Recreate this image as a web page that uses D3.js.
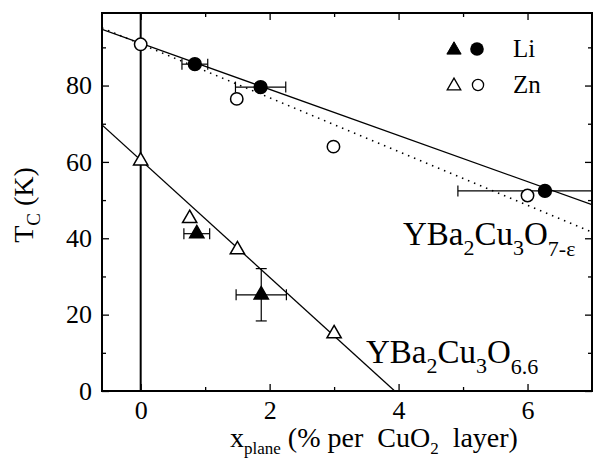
<!DOCTYPE html>
<html>
<head>
<meta charset="utf-8">
<script src="https://cdn.jsdelivr.net/npm/d3@7"></script>
</head>
<body style="margin:0; background:#fff">
<div id="my_dataviz"></div>
<script>
// data
// Li doped, 7-eps : [x, Tc, xerr]
const liCircles = [[0.84, 85.6, 0.2], [1.86, 79.6, 0.39], [6.27, 52.4, 1.35]];
// Zn doped, 7-eps
const znCircles = [[0, 90.8], [1.49, 76.5], [2.99, 64.0], [6.0, 51.2]];
// Zn doped, 6.6
const znTriangles = [[0, 60.3], [0.76, 45.2], [1.5, 37.0], [3.0, 15.0]];
// Li doped, 6.6 : [x, Tc, xerr, yerr]
const liTriangles = [[0.87, 41.2, 0.2, 0], [1.87, 25.2, 0.39, 6.85]];
// fit lines (end points)
const fitLi7 = [[-0.6, 94.7], [7, 48.8]];
const fitZn7 = [[-0.6, 95.1], [7, 41.6]];
const fit66 = [[-0.6, 69.7], [3.94, 0]];

const xTicks = [0, 2, 4, 6], xMinor = [1, 3, 5];
const yTicks = [0, 20, 40, 60, 80], yMinor = [10, 30, 50, 70, 90];

const FONT = '"Liberation Serif"';

const margin = {top: 13, right: 1, bottom: 73, left: 102},
  width = 593 - margin.left - margin.right,
  height = 464 - margin.top - margin.bottom;

const svg = d3.select("#my_dataviz")
  .append("svg")
  .attr("width", 593)
  .attr("height", 464)
  .append("g")
  .attr("transform", `translate(${margin.left},${margin.top})`);

const x = d3.scaleLinear().domain([-0.6, 7]).range([0, width]);
const y = d3.scaleLinear().domain([0, 99]).range([height, 0]);

svg.append("clipPath").attr("id", "clip")
  .append("rect").attr("width", width).attr("height", height);

// axes, ticks inward
function styleAxis(g) {
  g.attr("font-family", FONT);
  g.select(".domain").remove();
  g.selectAll("line").attr("stroke", "#000").attr("stroke-width", 1.3);
  g.selectAll("text").style("font-family", FONT).style("font-size", "26px").attr("fill", "#000");
}
svg.append("g").attr("transform", `translate(0,${height})`)
  .call(d3.axisBottom(x).tickValues(xTicks).tickSize(-7).tickPadding(8).tickFormat(d3.format("d")))
  .call(styleAxis).selectAll("text").attr("dy", "0.75em");
svg.append("g").attr("transform", `translate(0,${height})`)
  .call(d3.axisBottom(x).tickValues(xMinor).tickSize(-4).tickFormat(""))
  .call(styleAxis);
svg.append("g")
  .call(d3.axisTop(x).tickValues(xTicks).tickSize(-7).tickFormat(""))
  .call(styleAxis);
svg.append("g")
  .call(d3.axisTop(x).tickValues(xMinor).tickSize(-4).tickFormat(""))
  .call(styleAxis);
svg.append("g")
  .call(d3.axisLeft(y).tickValues(yTicks).tickSize(-7).tickPadding(10).tickFormat(d3.format("d")))
  .call(styleAxis);
svg.append("g")
  .call(d3.axisLeft(y).tickValues(yMinor).tickSize(-4).tickFormat(""))
  .call(styleAxis);
svg.append("g").attr("transform", `translate(${width},0)`)
  .call(d3.axisRight(y).tickValues(yTicks).tickSize(-7).tickFormat(""))
  .call(styleAxis);
svg.append("g").attr("transform", `translate(${width},0)`)
  .call(d3.axisRight(y).tickValues(yMinor).tickSize(-4).tickFormat(""))
  .call(styleAxis);

// frame
svg.append("rect")
  .attr("width", width).attr("height", height)
  .attr("fill", "none").attr("stroke", "#000").attr("stroke-width", 2);

// x = 0 line
svg.append("line")
  .attr("x1", x(0)).attr("x2", x(0)).attr("y1", 0).attr("y2", height)
  .attr("stroke", "#000").attr("stroke-width", 2);

const plot = svg.append("g").attr("clip-path", "url(#clip)");
const line = d3.line().x(d => x(d[0])).y(d => y(d[1]));

plot.append("path").datum(fitLi7).attr("d", line)
  .attr("fill", "none").attr("stroke", "#000").attr("stroke-width", 1.3);
plot.append("path").datum(fitZn7).attr("d", line)
  .attr("fill", "none").attr("stroke", "#000").attr("stroke-width", 1.5)
  .attr("stroke-dasharray", "1.5,5");
plot.append("path").datum(fit66).attr("d", line)
  .attr("fill", "none").attr("stroke", "#000").attr("stroke-width", 1.3);

// error bars
const cap = 5.5;
function xErr(data) {
  data.forEach(d => {
    const g = plot.append("g").attr("stroke", "#000").attr("stroke-width", 1.2);
    g.append("line").attr("x1", x(d[0] - d[2])).attr("x2", x(d[0] + d[2]))
      .attr("y1", y(d[1])).attr("y2", y(d[1]));
    [d[0] - d[2], d[0] + d[2]].forEach(v => {
      g.append("line").attr("x1", x(v)).attr("x2", x(v))
        .attr("y1", y(d[1]) - cap).attr("y2", y(d[1]) + cap);
    });
  });
}
xErr(liCircles);
xErr(liTriangles);
liTriangles.filter(d => d[3] > 0).forEach(d => {
  const g = plot.append("g").attr("stroke", "#000").attr("stroke-width", 1.2);
  g.append("line").attr("x1", x(d[0])).attr("x2", x(d[0]))
    .attr("y1", y(d[1] - d[3])).attr("y2", y(d[1] + d[3]));
  [d[1] - d[3], d[1] + d[3]].forEach(v => {
    g.append("line").attr("x1", x(d[0]) - cap).attr("x2", x(d[0]) + cap)
      .attr("y1", y(v)).attr("y2", y(v));
  });
});

// markers
const tri = d3.symbol().type(d3.symbolTriangle).size(88);
function circles(data, filled, r) {
  svg.selectAll(null).data(data).join("circle")
    .attr("cx", d => x(d[0])).attr("cy", d => y(d[1])).attr("r", r)
    .attr("fill", filled ? "#000" : "#fff").attr("stroke", "#000").attr("stroke-width", 1.5);
}
function triangles(data, filled) {
  svg.selectAll(null).data(data).join("path")
    .attr("d", tri)
    .attr("transform", d => `translate(${x(d[0])},${y(d[1])})`)
    .attr("fill", filled ? "#000" : "#fff").attr("stroke", "#000").attr("stroke-width", 1.5);
}
circles(znCircles, false, 6.2);
circles(liCircles, true, 6.4);
triangles(znTriangles, false);
triangles(liTriangles, true);

// legend
const leg = svg.append("g");
leg.append("path").attr("d", tri).attr("transform", "translate(352,37)").attr("fill", "#000").attr("stroke", "#000");
leg.append("circle").attr("cx", 375).attr("cy", 36).attr("r", 6.8).attr("fill", "#000");
leg.append("path").attr("d", d3.symbol().type(d3.symbolTriangle).size(80))
  .attr("transform", "translate(352,73)").attr("fill", "#fff").attr("stroke", "#000").attr("stroke-width", 1.3);
leg.append("circle").attr("cx", 376).attr("cy", 72).attr("r", 5.6).attr("fill", "#fff")
  .attr("stroke", "#000").attr("stroke-width", 1.3);
leg.append("text").attr("x", 411).attr("y", 44).style("font-family", FONT).style("font-size", "25px").text("Li");
leg.append("text").attr("x", 411).attr("y", 80).style("font-family", FONT).style("font-size", "25px").text("Zn");

// compound labels
function formula(px, py, sub3) {
  const t = svg.append("text").attr("x", px).attr("y", py)
    .style("font-family", FONT).style("font-size", "33px");
  t.append("tspan").text("YBa");
  t.append("tspan").attr("dy", 10).style("font-size", "22px").text("2");
  t.append("tspan").attr("dy", -10).text("Cu");
  t.append("tspan").attr("dy", 10).style("font-size", "22px").text("3");
  t.append("tspan").attr("dy", -10).text("O");
  t.append("tspan").attr("dy", 11).style("font-size", "22px").text(sub3);
}
formula(301, 232, "7-ε");
formula(264, 350, "6.6");

// axis titles
const xt = svg.append("text")
  .attr("x", 128).attr("y", height + 56)
  .style("font-family", FONT).style("font-size", "28px").style("white-space", "pre");
xt.append("tspan").text("x");
xt.append("tspan").attr("dy", 7).style("font-size", "17px").text("plane");
xt.append("tspan").attr("dy", -7).text(" (% per  CuO");
xt.append("tspan").attr("dy", 7).style("font-size", "17px").text("2");
xt.append("tspan").attr("dy", -7).text("  layer)");

const yt = svg.append("text")
  .attr("transform", `translate(${33 - margin.left},${205 - margin.top}) rotate(-90)`)
  .attr("text-anchor", "middle")
  .style("font-family", FONT).style("font-size", "28px");
yt.append("tspan").text("T");
yt.append("tspan").attr("dy", 7).style("font-size", "19px").text("C");
yt.append("tspan").attr("dy", -7).text(" (K)");
</script>
</body>
</html>
